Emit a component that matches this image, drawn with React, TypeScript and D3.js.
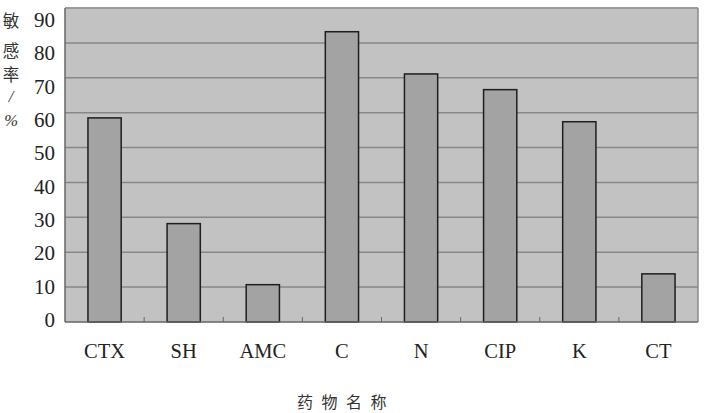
import React from "react";
import * as d3 from "d3";

const categories = ["CTX", "SH", "AMC", "C", "N", "CIP", "K", "CT"];
const values = [58.5, 28.2, 10.7, 83.2, 71.1, 66.6, 57.4, 13.8];
const yTicks = [0, 10, 20, 30, 40, 50, 60, 70, 80, 90];
const yTitleChars = ["敏", "感", "率", "/", "%"];
const xTitle = "药物名称";

export default function App() {
  const W = 707, H = 413;
  const left = 65, right = 698, top = 8, bottom = 322;
  const x = d3.scaleBand<string>().domain(categories).range([left, right]).paddingInner(0.58).paddingOuter(0.29);
  const xb = d3.scaleBand<string>().domain(categories).range([left, right]);
  const y = d3.scaleLinear().domain([0, 90]).range([bottom, top]);
  const yLabel = d3.scaleLinear().domain([0, 90]).range([320, 20]);
  const serif = "'Liberation Serif', 'DejaVu Serif', serif";
  const cjk = "'Noto Sans CJK SC', sans-serif";
  const titleY = [21, 51, 75, 96, 120];
  return (
    <svg width={W} height={H} style={{ position: "absolute", left: 0, top: 0, background: "#fff" }}>
      <rect x={left} y={top} width={right - left} height={bottom - top} fill="#c2c2c2" />
      {yTicks.filter(t => t > 0).map(t => (
        <line key={t} x1={left} x2={right} y1={y(t)} y2={y(t)} stroke="#878787" strokeWidth={1.5} />
      ))}
      <line x1={left} x2={right} y1={top} y2={top} stroke="#9a9a9a" strokeWidth={1.5} />
      <line x1={right} x2={right} y1={top} y2={bottom} stroke="#8a8a8a" strokeWidth={1.5} />
      {categories.map((c, i) => (
        <rect key={c} x={x(c)} y={y(values[i])} width={x.bandwidth()} height={bottom - y(values[i])}
          fill="#a3a3a3" stroke="#1e1e1e" strokeWidth={1.5} />
      ))}
      {categories.slice(1).map(c => (
        <line key={c} x1={xb(c)} x2={xb(c)} y1={bottom} y2={bottom - 5} stroke="#666" strokeWidth={1} />
      ))}
      <line x1={left} x2={left} y1={top} y2={bottom} stroke="#666" strokeWidth={1.5} />
      <line x1={left} x2={right} y1={bottom} y2={bottom} stroke="#666" strokeWidth={1.5} />
      {yTicks.map(t => (
        <text key={t} x={55} y={yLabel(t)} dy="0.33em" textAnchor="end" fontFamily={serif} fontSize={21} fill="#222">{t}</text>
      ))}
      {categories.map(c => (
        <text key={c} x={(x(c) as number) + x.bandwidth() / 2} y={358} textAnchor="middle" fontFamily={serif} fontSize={20.5} fill="#222">{c}</text>
      ))}
      {yTitleChars.map((ch, i) => (
        <text key={i} x={11} y={titleY[i]} dy="0.35em" textAnchor="middle"
          fontFamily={i < 3 ? cjk : serif}
          fontStyle={i >= 3 ? "italic" : "normal"} fontSize={16.5} fill="#333">{ch}</text>
      ))}
      <text x={297} y={408} textAnchor="start" fontFamily={cjk} fontSize={16} letterSpacing={8.5} fill="#333">{xTitle}</text>
    </svg>
  );
}
